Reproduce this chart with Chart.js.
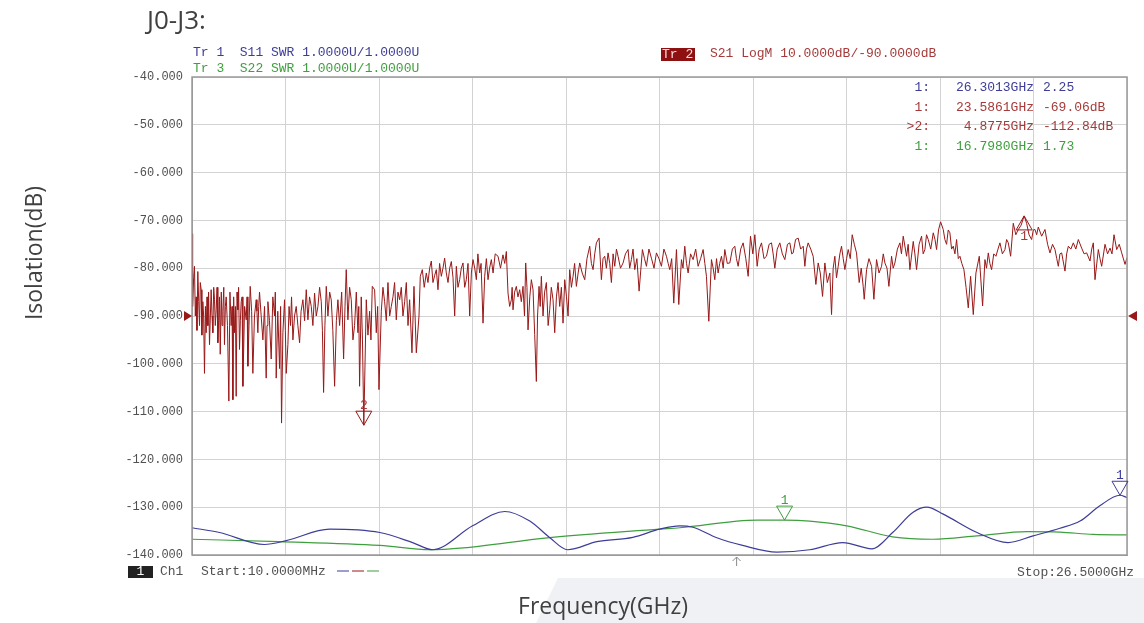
<!DOCTYPE html>
<html>
<head>
<meta charset="utf-8">
<script src="https://cdn.jsdelivr.net/npm/chart.js@4.4.0/dist/chart.umd.min.js"></script>
<style>
  html, body { margin: 0; padding: 0; background: #fff; }
  #wrap { width: 1144px; height: 623px; position: relative; }
</style>
</head>
<body>
<div id="wrap"><canvas id="myChart"></canvas></div>
<script>
// sweep and scale settings
const freqStart = 0.01;
const freqStop = 26.5;
const dbTicks = [-140, -130, -120, -110, -100, -90, -80, -70, -60, -50, -40];
const refLevel = -90;
const swrMin = 1;
const swrMax = 11;
const stimulusArrowFreq = 15.44;

// S21 LogM trace: [GHz, dB]
const s21Trace = [
  [0.01, -88], [0.02, -72.8], [0.034, -88], [0.057, -82], [0.08, -79.6], [0.104, -90], [0.128, -86], [0.15, -93],
  [0.175, -80.7], [0.2, -87], [0.223, -92], [0.245, -83], [0.27, -84.5], [0.29, -94], [0.317, -87], [0.34, -90],
  [0.364, -102], [0.39, -88], [0.412, -93.5], [0.435, -86], [0.459, -92], [0.48, -85], [0.506, -96], [0.53, -90],
  [0.553, -84.5], [0.577, -90], [0.6, -93.5], [0.625, -84], [0.648, -86.6], [0.67, -92], [0.695, -88.7], [0.72, -84],
  [0.742, -95.6], [0.765, -91], [0.79, -86], [0.81, -98], [0.84, -85], [0.86, -92], [0.884, -89], [0.91, -84],
  [0.93, -96], [0.955, -88], [0.979, -86], [1.015, -92], [1.054, -107.8], [1.085, -85], [1.12, -92], [1.145, -88],
  [1.168, -107.5], [1.19, -86], [1.215, -93.5], [1.24, -88], [1.262, -106.8], [1.285, -85], [1.309, -88.7], [1.33, -84],
  [1.356, -97], [1.38, -91], [1.404, -87], [1.43, -86], [1.451, -104.7], [1.5, -88], [1.546, -90.8], [1.57, -86],
  [1.593, -100.5], [1.625, -92], [1.659, -83.8], [1.7, -89], [1.734, -102], [1.78, -90], [1.829, -86.6], [1.85, -89],
  [1.876, -93.5], [1.9, -88], [1.923, -85], [1.97, -90], [2.018, -95], [2.065, -88], [2.112, -103], [2.135, -92],
  [2.16, -87], [2.205, -91], [2.254, -99], [2.3, -86], [2.349, -90], [2.37, -85], [2.396, -103], [2.44, -89],
  [2.491, -101], [2.52, -88], [2.547, -112.4], [2.585, -93.5], [2.632, -86.6], [2.655, -93], [2.68, -102], [2.727, -96],
  [2.76, -88], [2.8, -92], [2.83, -86], [2.869, -95], [2.915, -90], [2.963, -88], [3.01, -92], [3.058, -95.6],
  [3.1, -89], [3.152, -86.6], [3.2, -91], [3.247, -84.5], [3.294, -90.8], [3.34, -86], [3.389, -88], [3.435, -92],
  [3.483, -85.2], [3.53, -90], [3.578, -88], [3.625, -84], [3.672, -87], [3.705, -93], [3.738, -106], [3.775, -92],
  [3.814, -83.8], [3.861, -90], [3.91, -85], [3.955, -86.6], [4.0, -93], [4.05, -104.7], [4.1, -91], [4.144, -86.6],
  [4.192, -92], [4.25, -85], [4.305, -99], [4.345, -88], [4.38, -80.3], [4.427, -90.8], [4.475, -84], [4.522, -86.6],
  [4.57, -95], [4.616, -92], [4.665, -85], [4.711, -93.5], [4.735, -88], [4.758, -104.7], [4.805, -86], [4.84, -95],
  [4.8775, -112.84], [4.948, -86.6], [4.995, -94], [5.042, -89], [5.08, -95], [5.118, -83.8], [5.184, -84.5], [5.231, -93.5],
  [5.27, -88], [5.307, -105.4], [5.373, -89], [5.42, -84], [5.467, -87], [5.515, -91], [5.562, -83], [5.61, -90],
  [5.656, -88], [5.704, -86], [5.75, -83], [5.798, -90.8], [5.845, -85], [5.893, -86.6], [5.94, -84], [5.987, -90],
  [6.035, -87], [6.082, -83], [6.13, -92], [6.176, -86.6], [6.242, -97.7], [6.299, -83.8], [6.33, -90], [6.365, -97.7],
  [6.441, -90], [6.478, -81.7], [6.535, -80.3], [6.59, -84], [6.648, -81], [6.695, -83], [6.743, -80], [6.79, -78.5],
  [6.837, -83], [6.885, -81.5], [6.932, -80.3], [6.979, -84.5], [7.025, -79], [7.074, -81.7], [7.12, -80], [7.168, -77.9],
  [7.215, -81], [7.263, -83], [7.31, -80], [7.357, -78.6], [7.405, -82], [7.452, -90], [7.499, -79.6], [7.545, -84],
  [7.593, -82.4], [7.64, -80], [7.688, -78.9], [7.735, -84], [7.782, -82.4], [7.83, -79], [7.877, -90], [7.925, -81],
  [7.971, -78.2], [8.02, -80], [8.066, -82.4], [8.11, -77], [8.16, -81], [8.2, -79], [8.255, -91.5], [8.302, -81.7],
  [8.35, -78], [8.397, -82.4], [8.44, -80], [8.491, -78.2], [8.54, -81], [8.6, -77], [8.68, -77.5], [8.75, -80],
  [8.82, -77.2], [8.87, -79], [8.916, -76.5], [8.963, -85.2], [9.01, -88], [9.058, -86.6], [9.08, -84], [9.105, -88.7],
  [9.15, -85], [9.199, -83.8], [9.245, -86], [9.294, -84.5], [9.34, -87], [9.388, -83.8], [9.43, -90], [9.464, -78.9],
  [9.5, -84], [9.53, -92.9], [9.58, -86], [9.625, -82.4], [9.672, -84.5], [9.719, -93.9], [9.766, -103.7], [9.8, -90],
  [9.842, -83.8], [9.875, -88], [9.908, -81.7], [9.955, -90], [10.0, -85], [10.05, -83], [10.1, -92], [10.144, -88.7],
  [10.19, -84], [10.239, -86.6], [10.286, -93.5], [10.335, -86], [10.381, -83], [10.428, -88], [10.475, -84], [10.522, -91.5],
  [10.57, -82.4], [10.62, -86], [10.664, -90], [10.711, -80.3], [10.76, -84], [10.806, -81.7], [10.85, -79], [10.9, -83.8],
  [10.95, -81], [10.995, -78.9], [11.065, -81], [11.137, -82.4], [11.2, -78], [11.278, -75.4], [11.325, -79], [11.373, -80.3],
  [11.42, -77], [11.467, -74.7], [11.543, -73.7], [11.609, -82.4], [11.655, -78], [11.703, -77.5], [11.75, -80], [11.798, -76.8],
  [11.845, -79], [11.892, -83], [11.94, -77], [11.987, -79.6], [12.035, -76], [12.081, -77.5], [12.15, -80], [12.223, -78.9],
  [12.29, -77], [12.365, -76.1], [12.41, -80], [12.459, -78.2], [12.505, -76], [12.554, -80.3], [12.615, -78], [12.677, -84.8],
  [12.771, -76.1], [12.83, -78], [12.885, -79.6], [12.955, -76], [13.026, -77.9], [13.1, -80], [13.168, -76.8], [13.24, -78],
  [13.31, -79.6], [13.38, -76], [13.452, -77.5], [13.5, -79], [13.546, -80.3], [13.6, -78], [13.659, -87.3], [13.735, -76.1],
  [13.801, -87.6], [13.877, -78.2], [13.92, -80], [13.971, -75.4], [14.02, -79], [14.066, -81], [14.135, -77], [14.207, -78.2],
  [14.28, -76], [14.349, -79.6], [14.42, -78], [14.491, -76.1], [14.54, -79], [14.585, -81.7], [14.652, -91.1], [14.727, -78.2],
  [14.775, -80], [14.822, -82.4], [14.87, -78], [14.916, -81], [14.96, -79], [15.011, -77.5], [15.06, -80], [15.105, -76.1],
  [15.175, -79], [15.247, -78.9], [15.32, -76], [15.389, -75.4], [15.435, -78], [15.483, -79.6], [15.555, -76], [15.625, -74.7],
  [15.7, -78], [15.767, -81.7], [15.833, -73.3], [15.9, -77], [15.956, -73], [16.022, -79.6], [16.08, -76], [16.145, -74.7],
  [16.215, -78], [16.286, -77.5], [16.36, -75], [16.428, -74.7], [16.475, -77], [16.522, -80], [16.59, -76], [16.664, -74.7],
  [16.735, -77], [16.806, -78.2], [16.88, -75], [16.948, -74.7], [17.0, -77], [17.042, -76.8], [17.11, -74], [17.184, -73.7],
  [17.255, -76], [17.326, -75.4], [17.373, -79.6], [17.42, -76], [17.467, -74.7], [17.54, -76], [17.609, -77.5], [17.685, -83.4],
  [17.751, -78.9], [17.81, -81], [17.874, -85.9], [17.94, -78.9], [18.01, -83], [18.081, -81], [18.129, -89.7], [18.175, -80],
  [18.223, -77.5], [18.27, -82], [18.318, -79.6], [18.365, -77], [18.412, -75.4], [18.46, -78], [18.507, -80.3], [18.555, -78],
  [18.601, -76.1], [18.66, -78], [18.715, -73], [18.775, -75], [18.837, -76.8], [18.913, -83], [18.97, -80], [19.026, -83.8],
  [19.055, -86.5], [19.121, -80.3], [19.19, -78], [19.263, -79.6], [19.329, -86.5], [19.404, -78.2], [19.475, -81], [19.546, -79.6],
  [19.595, -77], [19.641, -78.9], [19.7, -80], [19.754, -83.8], [19.83, -77.5], [19.875, -80], [19.924, -78.9], [19.995, -76],
  [20.066, -74.7], [20.11, -77], [20.16, -73.3], [20.255, -77.5], [20.3, -75], [20.349, -80.3], [20.444, -74.4], [20.49, -77],
  [20.538, -80.3], [20.61, -75], [20.68, -73.3], [20.725, -77], [20.774, -76.1], [20.82, -73], [20.869, -74], [20.94, -76],
  [21.011, -72.6], [21.06, -74], [21.105, -76.1], [21.16, -72], [21.219, -70.3], [21.294, -71.9], [21.34, -74], [21.389, -75],
  [21.435, -72], [21.483, -72.6], [21.53, -76], [21.578, -75.4], [21.625, -77], [21.672, -74], [21.72, -78], [21.767, -77.5],
  [21.82, -79], [21.88, -80.3], [21.94, -84], [22.003, -88.3], [22.069, -81.7], [22.145, -89.7], [22.22, -81], [22.315, -77.5],
  [22.409, -87.9], [22.475, -78.2], [22.52, -80], [22.57, -76.8], [22.615, -79], [22.664, -80.3], [22.725, -77], [22.787, -77.5],
  [22.845, -76], [22.9, -74.7], [22.97, -77], [23.042, -76.1], [23.09, -74], [23.137, -74.7], [23.203, -77.5], [23.278, -70.6],
  [23.35, -73], [23.42, -71.9], [23.5, -71], [23.5861, -69.06], [23.656, -70.6], [23.725, -73], [23.798, -74], [23.845, -72],
  [23.893, -71.9], [23.94, -73], [23.987, -71.4], [24.082, -73.3], [24.176, -71.9], [24.25, -75], [24.318, -76.8], [24.39, -75],
  [24.46, -76.1], [24.51, -78], [24.554, -79.6], [24.6, -77], [24.649, -76.8], [24.743, -80.6], [24.79, -77], [24.838, -75.4],
  [24.91, -76], [24.979, -74.7], [25.05, -76], [25.121, -74], [25.215, -75.8], [25.285, -77], [25.357, -76.8], [25.452, -78.5],
  [25.5, -76], [25.546, -74.7], [25.593, -82.4], [25.688, -76.1], [25.735, -78], [25.782, -79.6], [25.877, -75], [25.95, -77],
  [26.019, -75.8], [26.075, -77], [26.132, -73], [26.208, -76.1], [26.28, -75], [26.35, -76.8], [26.444, -79.2], [26.5, -77.8]
];

// S11 SWR
const s11Freq = [0.01, 0.79, 2.06, 2.68, 3.91, 5.33, 6.26, 6.83, 7.96, 8.87, 9.58, 10.15, 10.65, 11.48, 12.5, 13.26,
  13.83, 14.2, 14.88, 15.61, 16.58, 17.51, 18.45, 19.27, 19.86, 20.43, 20.83, 21.28, 22.25, 23.13, 23.84, 24.6,
  25.17, 25.73, 26.3013, 26.5];
const s11Swr = [1.57, 1.47, 1.22, 1.3, 1.54, 1.47, 1.26, 1.11, 1.61, 1.91, 1.71, 1.36, 1.11, 1.28, 1.37, 1.54,
  1.61, 1.58, 1.36, 1.2, 1.06, 1.11, 1.26, 1.13, 1.47, 1.89, 2.0, 1.86, 1.47, 1.26, 1.4, 1.56,
  1.71, 2.03, 2.25, 2.2];

// S22 SWR
const s22Freq = [0.01, 2.47, 5.33, 6.76, 7.7, 10.08, 13.26, 13.83, 16.02, 16.798, 17.51, 18.56, 19.86, 21.0, 22.25, 23.67, 24.6, 25.54, 26.5];
const s22Swr = [1.33, 1.28, 1.2, 1.11, 1.15, 1.36, 1.54, 1.57, 1.73, 1.73, 1.71, 1.61, 1.38, 1.33, 1.4, 1.49, 1.48, 1.43, 1.42];

// markers: trace, number, frequency (GHz), value
const markerTrace = ["S11", "S21", "S21", "S22"];
const markerNum = ["1", "1", "2", "1"];
const markerFreq = [26.3013, 23.5861, 4.8775, 16.798];
const markerVal = [2.25, -69.06, -112.84, 1.73];
const activeMarker = 2;

const colors = {
  S11: "#3d3d99",
  S21: "#991818",
  S21text: "#a63a3a",
  S22: "#3f9f3f",
  grid: "#d2d2d2",
  frame: "#9a9a9a",
  text: "#505050",
  title: "#404040"
};

const monoFont = "'Liberation Mono', monospace";

function axisFor(trace) {
  return trace === "S21" ? "y" : "swr";
}

const vnaPlugin = {
  id: "vna",
  beforeDraw(chart) {
    const c = chart.ctx;
    c.save();
    c.fillStyle = "#ffffff";
    c.fillRect(0, 0, chart.width, chart.height);
    // pale slide panel behind the x title
    c.fillStyle = "#eff1f4";
    c.beginPath();
    c.moveTo(558, 578);
    c.lineTo(chart.width, 578);
    c.lineTo(chart.width, chart.height);
    c.lineTo(536, chart.height);
    c.closePath();
    c.fill();
    c.restore();
  },
  afterDatasetsDraw(chart) {
    const c = chart.ctx;
    const a = chart.chartArea;
    const xs = chart.scales.x;
    c.save();

    // frame
    c.strokeStyle = colors.frame;
    c.lineWidth = 1.5;
    c.strokeRect(a.left, a.top, a.right - a.left, a.bottom - a.top);

    // reference level arrows
    const ry = chart.scales.y.getPixelForValue(refLevel);
    c.fillStyle = colors.S21;
    c.beginPath();
    c.moveTo(a.left - 8, ry - 5);
    c.lineTo(a.left, ry);
    c.lineTo(a.left - 8, ry + 5);
    c.fill();
    c.beginPath();
    c.moveTo(a.right + 10, ry - 5);
    c.lineTo(a.right + 1, ry);
    c.lineTo(a.right + 10, ry + 5);
    c.fill();

    // markers
    c.lineWidth = 1;
    c.textAlign = "center";
    c.textBaseline = "middle";
    c.font = "13px " + monoFont;
    for (let i = 0; i < markerFreq.length; i++) {
      const tr = markerTrace[i];
      const px = xs.getPixelForValue(markerFreq[i]);
      const py = chart.scales[axisFor(tr)].getPixelForValue(markerVal[i]);
      const col = colors[tr];
      c.strokeStyle = col;
      c.fillStyle = tr === "S21" ? colors.S21text : col;
      c.beginPath();
      if (tr === "S21" && markerNum[i] === "1") {
        c.moveTo(px, py);
        c.lineTo(px - 8, py + 14);
        c.lineTo(px + 8, py + 14);
        c.closePath();
        c.stroke();
        c.fillText(markerNum[i], px, py + 21);
      } else {
        c.moveTo(px - 8, py - 14);
        c.lineTo(px + 8, py - 14);
        c.lineTo(px, py);
        c.closePath();
        c.stroke();
        c.fillText(markerNum[i], px, py - 20);
      }
    }

    // stimulus arrow under the grid
    const sx = xs.getPixelForValue(stimulusArrowFreq);
    c.strokeStyle = "#888";
    c.beginPath();
    c.moveTo(sx, a.bottom + 2);
    c.lineTo(sx, a.bottom + 11);
    c.moveTo(sx - 4, a.bottom + 6);
    c.lineTo(sx, a.bottom + 2);
    c.lineTo(sx + 4, a.bottom + 6);
    c.stroke();

    // trace headers
    c.textAlign = "left";
    c.font = "13px " + monoFont;
    c.fillStyle = colors.S11;
    c.fillText("Tr 1  S11 SWR 1.0000U/1.0000U", 193, 53);
    c.fillStyle = colors.S22;
    c.fillText("Tr 3  S22 SWR 1.0000U/1.0000U", 193, 69);
    c.fillStyle = "#8e1010";
    c.fillRect(661, 48, 34, 13);
    c.fillStyle = "#f4dede";
    c.fillText("Tr 2", 662, 54.5);
    c.fillStyle = colors.S21text;
    c.fillText("S21 LogM 10.0000dB/-90.0000dB", 710, 54);

    // marker readout
    const rowY = [88, 107.5, 127, 146.5];
    for (let i = 0; i < markerFreq.length; i++) {
      const tr = markerTrace[i];
      c.fillStyle = tr === "S21" ? colors.S21text : colors[tr];
      const val = tr === "S21" ? markerVal[i].toFixed(2) + "dB" : markerVal[i].toFixed(2);
      c.textAlign = "right";
      c.fillText((i === activeMarker ? ">" : "") + markerNum[i] + ":", 930, rowY[i]);
      c.fillText(markerFreq[i].toFixed(4) + "GHz", 1034, rowY[i]);
      c.textAlign = "left";
      c.fillText(val, 1043, rowY[i]);
    }

    // channel footer
    c.fillStyle = "#222";
    c.fillRect(128, 566, 25, 12);
    c.fillStyle = "#fff";
    c.textAlign = "center";
    c.fillText("1", 140.5, 572);
    c.textAlign = "left";
    c.fillStyle = colors.text;
    c.fillText("Ch1", 160, 572);
    c.fillText("Start:10.0000MHz", 201, 572);
    c.textAlign = "right";
    c.fillText("Stop:26.5000GHz", 1134, 573);
    c.lineWidth = 1;
    [[colors.S11, 337], [colors.S21, 352], [colors.S22, 367]].forEach(([col, x0]) => {
      c.strokeStyle = col;
      c.beginPath();
      c.moveTo(x0, 571);
      c.lineTo(x0 + 12, 571);
      c.stroke();
    });

    // slide titles
    c.fillStyle = colors.title;
    c.textAlign = "left";
    c.font = "26px 'Open Sans'";
    c.fillText("J0-J3:", 147, 22);
    c.textAlign = "center";
    c.font = "23px 'Open Sans'";
    c.fillText("Frequency(GHz)", 603, 607);
    c.translate(35, 253);
    c.rotate(-Math.PI / 2);
    c.fillText("Isolation(dB)", 0, 0);
    c.restore();
  }
};

const ctx = document.getElementById("myChart");
const myChart = new Chart(ctx, {
  type: "line",
  data: {
    datasets: [
      {
        label: "S11",
        data: s11Freq.map((f, i) => ({ x: f, y: s11Swr[i] })),
        yAxisID: "swr",
        borderColor: colors.S11,
        borderWidth: 1.2,
        pointRadius: 0,
        cubicInterpolationMode: "monotone"
      },
      {
        label: "S22",
        data: s22Freq.map((f, i) => ({ x: f, y: s22Swr[i] })),
        yAxisID: "swr",
        borderColor: colors.S22,
        borderWidth: 1.2,
        pointRadius: 0,
        cubicInterpolationMode: "monotone"
      },
      {
        label: "S21",
        data: s21Trace.map((p) => ({ x: p[0], y: p[1] })),
        yAxisID: "y",
        borderColor: colors.S21,
        borderWidth: 1,
        pointRadius: 0,
        tension: 0
      }
    ]
  },
  options: {
    responsive: true,
    maintainAspectRatio: false,
    animation: false,
    layout: { padding: { top: 77, right: 17, bottom: 0, left: 0 } },
    plugins: { legend: { display: false }, tooltip: { enabled: false } },
    scales: {
      x: {
        type: "linear",
        min: freqStart,
        max: freqStop,
        afterBuildTicks: (s) => {
          const step = (freqStop - freqStart) / 10;
          s.ticks = Array.from({ length: 11 }, (_, i) => ({ value: freqStart + i * step }));
        },
        afterFit: (s) => { s.height = 68; },
        ticks: { display: false },
        grid: { color: colors.grid, drawTicks: false },
        border: { color: colors.frame }
      },
      y: {
        min: -140,
        max: -40,
        afterBuildTicks: (s) => { s.ticks = dbTicks.map((v) => ({ value: v })); },
        afterFit: (s) => { s.width = 192; },
        ticks: {
          callback: (v) => v.toFixed(3),
          color: colors.text,
          padding: 9,
          font: { family: "'Liberation Mono', monospace", size: 12 }
        },
        grid: { color: colors.grid, drawTicks: false },
        border: { color: colors.frame }
      },
      swr: {
        type: "linear",
        min: swrMin,
        max: swrMax,
        display: false
      }
    }
  },
  plugins: [vnaPlugin]
});
</script>
</body>
</html>
